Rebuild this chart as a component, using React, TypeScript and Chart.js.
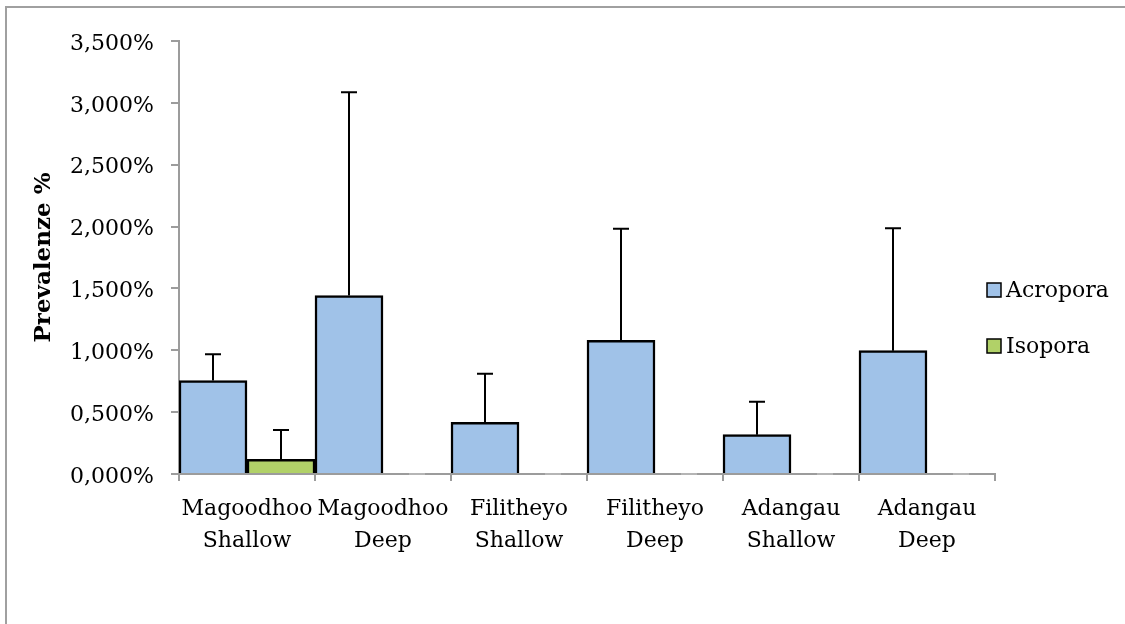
import React, { useEffect, useRef } from "react";
import { Chart, registerables } from "chart.js";

Chart.register(...registerables);

const categories: string[][] = [
  ["Magoodhoo", "Shallow"],
  ["Magoodhoo", "Deep"],
  ["Filitheyo", "Shallow"],
  ["Filitheyo", "Deep"],
  ["Adangau", "Shallow"],
  ["Adangau", "Deep"],
];
const acroporaValues = [0.755, 1.442, 0.418, 1.081, 0.318, 0.997];
const acroporaErrors = [0.213, 1.643, 0.393, 0.902, 0.267, 0.989];
const isoporaValues = [0.119, 0, 0, 0, 0, 0];
const isoporaErrors = [0.237, 0, 0, 0, 0, 0];
const seriesNames = ["Acropora", "Isopora"];
const yTickMax = 3.5;
const yTickStep = 0.5;
const yTitle = "Prevalenze %";

const FONT = "'DejaVu Serif', 'Liberation Serif', serif";
const AXIS_COLOR = "#9c9c9c";
const ACRO_COLOR = "#a0c2e8";
const ISO_COLOR = "#b1d168";

const errorBarPlugin = {
  id: "errorBars",
  afterDatasetsDraw(chart: any) {
    const ctx = chart.ctx;
    const yScale = chart.scales.y;
    const errs = [acroporaErrors, isoporaErrors];
    chart.data.datasets.forEach((ds: any, di: number) => {
      const meta = chart.getDatasetMeta(di);
      meta.data.forEach((el: any, i: number) => {
        const v = ds.data[i];
        const e = errs[di][i];
        const x = el.x;
        const yBase = yScale.getPixelForValue(v);
        const yTop = yScale.getPixelForValue(v + e);
        ctx.save();
        if (e === 0) {
          ctx.strokeStyle = "#b5b5b5";
          ctx.lineWidth = 2;
          ctx.beginPath();
          ctx.moveTo(x - 8, yBase);
          ctx.lineTo(x + 8, yBase);
          ctx.stroke();
        } else {
          ctx.strokeStyle = "#000";
          ctx.lineWidth = 2;
          ctx.beginPath();
          ctx.moveTo(x, yBase);
          ctx.lineTo(x, yTop);
          ctx.moveTo(x - 8, yTop);
          ctx.lineTo(x + 8, yTop);
          ctx.stroke();
        }
        ctx.restore();
      });
    });
  },
};

const framePlugin = {
  id: "frame",
  beforeDraw(chart: any) {
    const ctx = chart.ctx;
    ctx.save();
    ctx.fillStyle = "#fff";
    ctx.fillRect(0, 0, chart.width, chart.height);
    ctx.strokeStyle = "#a0a0a0";
    ctx.lineWidth = 2;
    ctx.beginPath();
    ctx.moveTo(6, chart.height);
    ctx.lineTo(6, 7);
    ctx.lineTo(chart.width, 7);
    ctx.stroke();
    ctx.restore();
  },
};

const legendPlugin = {
  id: "customLegend",
  afterDraw(chart: any) {
    const ctx = chart.ctx;
    const area = chart.chartArea;
    const colors = [ACRO_COLOR, ISO_COLOR];
    ctx.save();
    ctx.font = `22px ${FONT}`;
    ctx.textBaseline = "middle";
    seriesNames.forEach((name, i) => {
      const bx = area.right - 8;
      const cy = 290 + i * 56;
      ctx.fillStyle = colors[i];
      ctx.fillRect(bx, cy - 7, 14, 14);
      ctx.strokeStyle = "#000";
      ctx.lineWidth = 1.5;
      ctx.strokeRect(bx, cy - 7, 14, 14);
      ctx.fillStyle = "#000";
      ctx.fillText(name, bx + 19, cy + 1);
    });
    ctx.restore();
  },
};

export default function App() {
  const ref = useRef<HTMLCanvasElement>(null);
  useEffect(() => {
    if (!ref.current) return;
    const chart = new Chart(ref.current, {
      type: "bar",
      data: {
        labels: categories,
        datasets: [
          {
            label: seriesNames[0],
            data: acroporaValues,
            backgroundColor: ACRO_COLOR,
            borderColor: "#000",
            borderWidth: 2.5,
            barPercentage: 1,
            categoryPercentage: 1,
          },
          {
            label: seriesNames[1],
            data: isoporaValues,
            backgroundColor: ISO_COLOR,
            borderColor: "#000",
            borderWidth: 2.5,
            barPercentage: 1,
            categoryPercentage: 1,
          },
        ],
      },
      options: {
        responsive: false,
        animation: false,
        layout: { padding: { left: 0, top: 41, right: 130, bottom: 0 } },
        plugins: {
          legend: { display: false },
          tooltip: { enabled: false },
        },
        scales: {
          x: {
            offset: true,
            grid: {
              offset: true,
              drawOnChartArea: false,
              tickLength: 7,
              color: AXIS_COLOR,
              lineWidth: 2,
            },
            border: { color: AXIS_COLOR, width: 2 },
            ticks: {
              color: "#000",
              font: { family: FONT, size: 22, lineHeight: 1.45 },
              padding: 12,
              maxRotation: 0,
              autoSkip: false,
            },
            afterFit(scale: any) {
              scale.height = 150;
            },
          },
          y: {
            min: 0,
            max: yTickMax,
            grid: {
              drawOnChartArea: false,
              tickLength: 8,
              color: AXIS_COLOR,
              lineWidth: 2,
            },
            border: { color: AXIS_COLOR, width: 2 },
            ticks: {
              stepSize: yTickStep,
              color: "#000",
              font: { family: FONT, size: 22 },
              padding: 17,
              labelOffset: 3,
              callback: (v: any) => Number(v).toFixed(3).replace(".", ",") + "%",
            },
            title: {
              display: true,
              text: yTitle,
              color: "#000",
              font: { family: FONT, size: 23, weight: "bold" },
              padding: { top: 30, bottom: 0 },
            },
            afterFit(scale: any) {
              scale.width = 179;
            },
          },
        },
      },
      plugins: [framePlugin, errorBarPlugin, legendPlugin],
    });
    return () => chart.destroy();
  }, []);
  return (
    <canvas
      ref={ref}
      width={1125}
      height={624}
      style={{ position: "absolute", left: 0, top: 0, display: "block" }}
    />
  );
}
